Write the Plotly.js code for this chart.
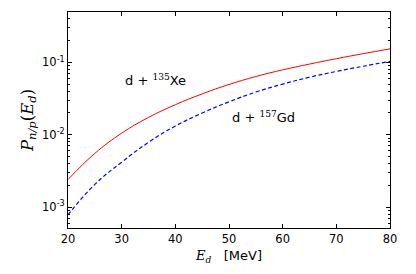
<!DOCTYPE html>
<html><head><meta charset="utf-8">
<script src="https://cdn.plot.ly/plotly-3.0.1.min.js"></script>
<style>html,body{margin:0;padding:0;background:#fff}#c{width:416px;height:274px}</style>
</head><body><div id="c"></div>
<script>
const energy = [20,25,30,35,40,45,50,55,60,65,70,75,80];
const xe135 = [0.00240,0.00552,0.01050,0.01735,0.0260,0.0367,0.0495,0.0638,0.0789,0.0948,0.1125,0.1321,0.1538];
const gd157 = [0.000782,0.002056,0.00417,0.00785,0.01318,0.01995,0.0285,0.0389,0.0501,0.0624,0.0750,0.0885,0.1035];
const yTickVals = [0.001,0.01,0.1];
const yTickText = ['10<sup>-3</sup>','10<sup>-2</sup>','10<sup>-1</sup>'];
const xTickVals = [20,30,40,50,60,70,80];
const minorVals = [];
[0.0001,0.001,0.01,0.1].forEach(d=>{for(let k=2;k<=9;k++)minorVals.push(d*k);});

const serif = "DejaVu Serif";
const traces = [
  {x: energy, y: xe135, mode:'lines', line:{color:'#ff0000', width:1, shape:'spline', smoothing:1.2}, hoverinfo:'skip'},
  {x: energy, y: gd157, mode:'lines', line:{color:'#0000ff', width:1.2, dash:'4px,2.5px', shape:'spline', smoothing:1.2}, hoverinfo:'skip'}
];
const layout = {
  width:416, height:274,
  margin:{l:68, r:26, t:12, b:46},
  paper_bgcolor:'#fff', plot_bgcolor:'#fff',
  showlegend:false,
  font:{family:'DejaVu Sans', size:11, color:'#000'},
  xaxis:{range:[20,80], tickmode:'array', tickvals:xTickVals, ticks:'inside', ticklen:4, tickcolor:'#000',
         showline:true, linecolor:'#000', linewidth:1, mirror:'ticks', showgrid:false, zeroline:false,
         tickfont:{size:11.5},
         title:{text:'<i><span style="font-family:'+serif+'">E<sub>d</sub></span></i>   [MeV]', font:{size:13}, standoff:6}},
  yaxis:{type:'log', range:[-3.29,-0.303], tickmode:'array', tickvals:yTickVals, ticktext:yTickText,
         ticks:'inside', ticklen:4, tickcolor:'#000',
         minor:{tickmode:'array', tickvals:minorVals, ticks:'inside', ticklen:2, tickcolor:'#000', showgrid:false},
         showline:true, linecolor:'#000', linewidth:1, mirror:'ticks', showgrid:false, zeroline:false,
         tickfont:{size:11.5},
         title:{text:'<i>P<sub>n/p</sub></i>(<i>E<sub>d</sub></i>)', font:{family:serif, size:16.5}, standoff:4}},
  annotations:[
    {x:30.2, y:Math.log10(0.0577), xref:'x', yref:'y', xanchor:'left', yanchor:'middle', showarrow:false,
     text:'d + <sup><span style="font-family:'+serif+'">135</span></sup>Xe', font:{size:13}},
    {x:50.2, y:-1.751, xref:'x', yref:'y', xanchor:'left', yanchor:'middle', showarrow:false,
     text:'d + <sup><span style="font-family:'+serif+'">157</span></sup>Gd', font:{size:13}}
  ]
};
Plotly.newPlot('c', traces, layout, {staticPlot:true, displayModeBar:false});
</script></body></html>
